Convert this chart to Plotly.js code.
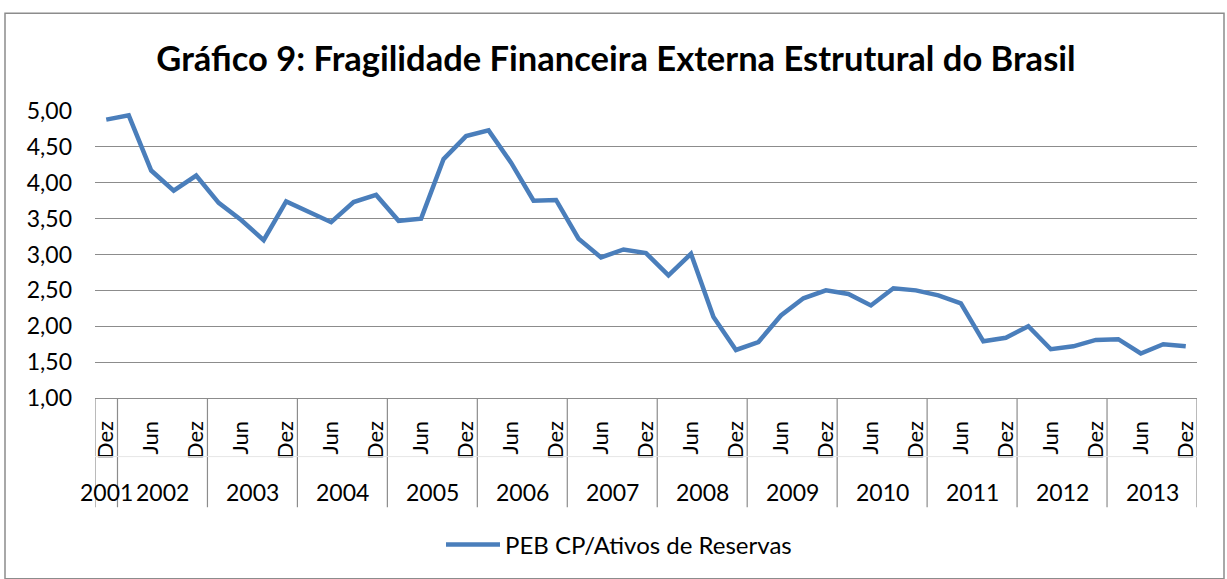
<!DOCTYPE html>
<html>
<head>
<meta charset="utf-8">
<script src="https://cdn.plot.ly/plotly-3.0.1.min.js"></script>
<style>
  html, body { margin: 0; padding: 0; background: #ffffff; }
  #chart { width: 1227px; height: 579px; }
</style>
</head>
<body>
<div id="chart"></div>
<script>
// ---- Data ----
const categories = [
  "Dez 2001",
  "Mar 2002", "Jun 2002", "Set 2002", "Dez 2002",
  "Mar 2003", "Jun 2003", "Set 2003", "Dez 2003",
  "Mar 2004", "Jun 2004", "Set 2004", "Dez 2004",
  "Mar 2005", "Jun 2005", "Set 2005", "Dez 2005",
  "Mar 2006", "Jun 2006", "Set 2006", "Dez 2006",
  "Mar 2007", "Jun 2007", "Set 2007", "Dez 2007",
  "Mar 2008", "Jun 2008", "Set 2008", "Dez 2008",
  "Mar 2009", "Jun 2009", "Set 2009", "Dez 2009",
  "Mar 2010", "Jun 2010", "Set 2010", "Dez 2010",
  "Mar 2011", "Jun 2011", "Set 2011", "Dez 2011",
  "Mar 2012", "Jun 2012", "Set 2012", "Dez 2012",
  "Mar 2013", "Jun 2013", "Set 2013", "Dez 2013"
];
const pebCpAtivosReservas = [
  4.88,
  4.94, 4.17, 3.89, 4.10,
  3.72, 3.48, 3.20, 3.74,
  3.59, 3.45, 3.73, 3.83,
  3.47, 3.50, 4.33, 4.65,
  4.73, 4.28, 3.75, 3.76,
  3.22, 2.96, 3.07, 3.02,
  2.71, 3.01, 2.13, 1.67,
  1.78, 2.15, 2.39, 2.50,
  2.45, 2.29, 2.53, 2.50,
  2.43, 2.32, 1.79, 1.84,
  2.00, 1.68, 1.72, 1.81,
  1.82, 1.62, 1.75, 1.72
];
const seriesName = "PEB CP/Ativos de Reservas";
const chartTitle = "Gráfico 9: Fragilidade Financeira Externa Estrutural do Brasil";
const yTickVals = [1.0, 1.5, 2.0, 2.5, 3.0, 3.5, 4.0, 4.5, 5.0];
const yTickText = ["1,00", "1,50", "2,00", "2,50", "3,00", "3,50", "4,00", "4,50", "5,00"];

// ---- Derived axis labels ----
const tickVals = categories.filter((c, i) => i % 2 === 0);
const tickText = tickVals.map(c => c.split(" ")[0]);
const years = [...new Set(categories.map(c => c.split(" ")[1]))];
const yearIdx = years.map(y => categories.map((c, i) => c.split(" ")[1] === y ? i : -1).filter(i => i >= 0));

// ---- Pixel helpers for layout geometry ----
const W = 1227, H = 579;
const M = { l: 95, r: 30, t: 111, b: 179 };
const PW = W - M.l - M.r, PH = H - M.t - M.b;
const px = x => (x - M.l) / PW;
const py = y => (H - M.b - y) / PH;

const gray = "#8c8c8c";
const fontFam = "Lato, 'Open Sans', sans-serif";

const shapes = [];
// year-group separators below the axis
const boundaries = [yearIdx[0][0] - 0.5].concat(yearIdx.map(g => g[g.length - 1] + 0.5));
boundaries.forEach(b => {
  shapes.push({ type: "line", xref: "x", yref: "paper", x0: b, x1: b, y0: 0, y1: py(510),
    line: { color: gray, width: 1.2 } });
});
// faint separator between the two label levels
shapes.push({ type: "line", xref: "x", yref: "paper", x0: -0.5, x1: categories.length - 0.5,
  y0: py(459), y1: py(459), line: { color: "#e6e6e6", width: 1 } });
// outer chart border
shapes.push({ type: "rect", xref: "paper", yref: "paper", x0: px(5), x1: px(1224), y0: py(582), y1: py(12.5),
  line: { color: "#8c8c8c", width: 1.5 }, fillcolor: "rgba(0,0,0,0)", layer: "below" });

const annotations = years.map((y, k) => {
  const g = yearIdx[k];
  const c = (g[0] + g[g.length - 1]) / 2;
  return { xref: "x", yref: "paper", x: c, y: py(495), text: y, showarrow: false,
    xanchor: "center", yanchor: "middle", font: { family: fontFam, size: 23, color: "#000" } };
});

const trace = {
  type: "scatter", mode: "lines", name: seriesName,
  x: categories, y: pebCpAtivosReservas,
  line: { color: "#4a7ebb", width: 4.5, shape: "linear" },
  showlegend: true
};

const layout = {
  width: W, height: H,
  margin: M,
  paper_bgcolor: "#ffffff", plot_bgcolor: "#ffffff",
  font: { family: fontFam, color: "#000" },
  title: { text: "<b>" + chartTitle + "</b>", x: 616 / W, xanchor: "center", xref: "container",
    y: 1 - 59 / H, yanchor: "middle", yref: "container",
    font: { family: fontFam, size: 34.5, color: "#000" } },
  xaxis: {
    type: "category", categoryorder: "array", categoryarray: categories,
    range: [-0.5, categories.length - 0.5],
    tickmode: "array", tickvals: tickVals, ticktext: tickText,
    tickangle: -90, ticks: "", ticklabelstandoff: 13,
    tickfont: { family: fontFam, size: 22, color: "#000" },
    showgrid: false, zeroline: false,
    showline: true, linecolor: gray, linewidth: 1.2, fixedrange: true
  },
  yaxis: {
    range: [1, 5], tickmode: "array", tickvals: yTickVals, ticktext: yTickText,
    ticks: "", ticklabelstandoff: 22,
    tickfont: { family: fontFam, size: 23, color: "#000" },
    showgrid: true, gridcolor: gray, gridwidth: 1.2, zeroline: false, showline: false, fixedrange: true
  },
  showlegend: true,
  legend: { orientation: "h", x: px(619), xanchor: "center", xref: "paper",
    y: py(548), yanchor: "middle", yref: "paper",
    font: { family: fontFam, size: 24, color: "#000" }, itemwidth: 54, bgcolor: "rgba(0,0,0,0)" },
  shapes: shapes,
  annotations: annotations
};

Plotly.newPlot("chart", [trace], layout, { displayModeBar: false, staticPlot: true });
</script>
</body>
</html>
